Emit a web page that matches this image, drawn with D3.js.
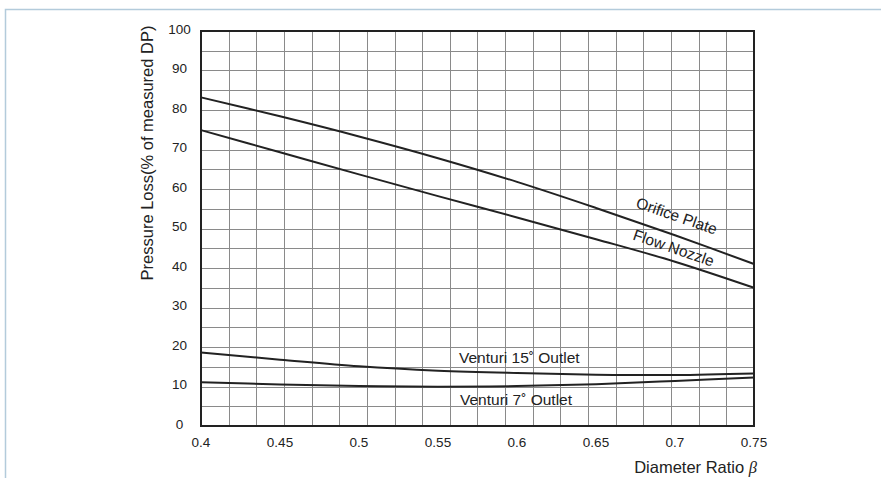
<!DOCTYPE html>
<html>
<head>
<meta charset="utf-8">
<script src="https://cdn.jsdelivr.net/npm/d3@7"></script>
<style>
  html, body { margin: 0; padding: 0; background: #fff; }
  svg { display: block; }
  text { font-family: "Liberation Sans", Arial, Helvetica, sans-serif; fill: #222; }
</style>
</head>
<body>
<svg id="chart" width="881" height="478"></svg>
<script>
// ---- data ----
const beta = [0.40, 0.45, 0.50, 0.55, 0.60, 0.65, 0.70, 0.75];
const orificePlate = [83.2, 78.4, 73.3, 67.8, 61.8, 55.2, 48.3, 41.0];
const flowNozzle   = [74.9, 69.3, 63.7, 58.2, 52.8, 47.3, 41.6, 35.0];
const venturi15    = [18.6, 16.8, 15.1, 14.0, 13.4, 13.0, 12.9, 13.3];
const venturi7     = [11.1, 10.5, 10.1, 9.95, 10.1, 10.6, 11.4, 12.3];
const xTickLabels = ["0.4", "0.45", "0.5", "0.55", "0.6", "0.65", "0.7", "0.75"];
const yTickLabels = ["0", "10", "20", "30", "40", "50", "60", "70", "80", "90", "100"];
const xGridDivisions = 20;
const yGridStep = 5;
const seriesLabels = ["Orifice Plate", "Flow Nozzle", "Venturi 15˚ Outlet", "Venturi 7˚ Outlet"];
const xTitle = "Diameter Ratio ";
const xTitleSymbol = "β";
const yTitle = "Pressure Loss(% of measured DP)";

// ---- layout ----
const svg = d3.select("#chart");
const pL = 201, pR = 754, pT = 31, pB = 426;

// page frame
svg.append("path")
  .attr("d", "M5.5,478 L5.5,9.5 L881,9.5")
  .attr("fill", "none")
  .attr("stroke", "#b3cbdb")
  .attr("stroke-width", 1.5);

const x = d3.scaleLinear().domain([0.4, 0.75]).range([pL, pR]);
const y = d3.scaleLinear().domain([0, 100]).range([pB, pT]);

// grid
const gx = d3.range(1, xGridDivisions).map(i => 0.4 + i * (0.35 / xGridDivisions));
const gy = d3.range(yGridStep, 100, yGridStep);
const grid = svg.append("g").attr("stroke", "#8a8a8a").attr("stroke-width", 1);
grid.selectAll("line.vx").data(gx).join("line")
  .attr("x1", d => Math.round(x(d)) + 0.5).attr("x2", d => Math.round(x(d)) + 0.5)
  .attr("y1", pT).attr("y2", pB);
grid.selectAll("line.hy").data(gy).join("line")
  .attr("y1", d => Math.round(y(d)) + 0.5).attr("y2", d => Math.round(y(d)) + 0.5)
  .attr("x1", pL).attr("x2", pR);

// border
svg.append("rect")
  .attr("x", pL).attr("y", pT)
  .attr("width", pR - pL).attr("height", pB - pT)
  .attr("fill", "none").attr("stroke", "#222").attr("stroke-width", 2);

// axes tick labels
const yTicks = yTickLabels.map(Number);
svg.append("g").selectAll("text").data(yTicks).join("text")
  .attr("x", 179.5).attr("y", d => y(d) - 2)
  .attr("dy", "0.35em")
  .attr("text-anchor", "middle")
  .attr("font-size", 13.5)
  .text((d, i) => yTickLabels[i]);

const xTicks = xTickLabels.map(Number);
svg.append("g").selectAll("text").data(xTicks).join("text")
  .attr("x", d => x(d)).attr("y", 447)
  .attr("text-anchor", "middle")
  .attr("font-size", 13.5)
  .text((d, i) => xTickLabels[i]);

// axis titles
const xt = svg.append("text")
  .attr("x", 757).attr("y", 473)
  .attr("text-anchor", "end")
  .attr("font-size", 16.5);
xt.append("tspan").text(xTitle);
xt.append("tspan")
  .attr("font-family", "'Liberation Serif', 'Times New Roman', serif")
  .attr("font-style", "italic")
  .text(xTitleSymbol);

svg.append("text")
  .attr("transform", "translate(153,153) rotate(-90)")
  .attr("text-anchor", "middle")
  .attr("font-size", 16.5)
  .text(yTitle);

// curves
const line = d3.line().x((d, i) => x(beta[i])).y(d => y(d)).curve(d3.curveCatmullRom);
[orificePlate, flowNozzle, venturi15, venturi7].forEach(s => {
  svg.append("path")
    .attr("d", line(s))
    .attr("fill", "none")
    .attr("stroke", "#222")
    .attr("stroke-width", 2);
});

// series labels
svg.append("text")
  .attr("transform", "translate(675,221) rotate(19)")
  .attr("text-anchor", "middle")
  .attr("font-size", 15.5)
  .text(seriesLabels[0]);
svg.append("text")
  .attr("transform", "translate(672,253) rotate(19)")
  .attr("text-anchor", "middle")
  .attr("font-size", 15.5)
  .text(seriesLabels[1]);
svg.append("text")
  .attr("x", 459).attr("y", 363)
  .attr("font-size", 15.5)
  .text(seriesLabels[2]);
svg.append("text")
  .attr("x", 460).attr("y", 405)
  .attr("font-size", 15.5)
  .text(seriesLabels[3]);
</script>
</body>
</html>
